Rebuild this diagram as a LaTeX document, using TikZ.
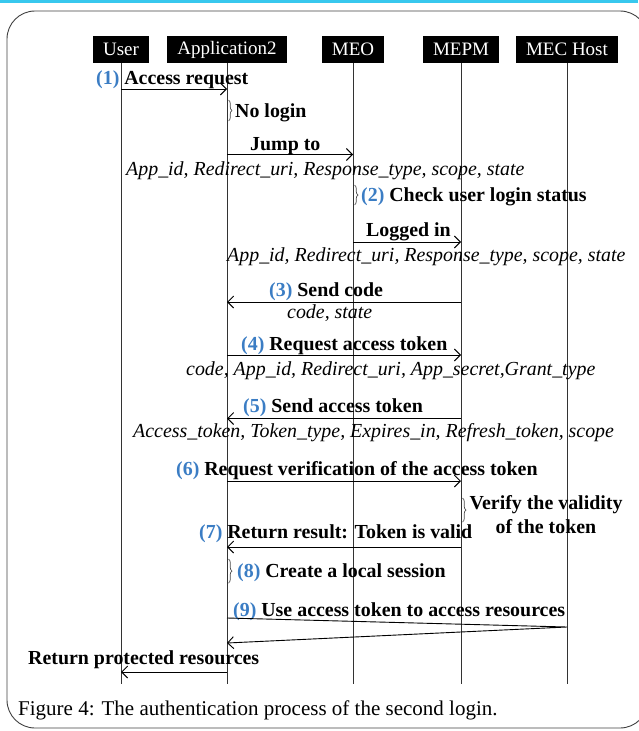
\documentclass[tikz,border=0pt]{standalone}
\usepackage{fontspec}
\setmainfont{Liberation Serif}
\usepackage{xcolor}
\usetikzlibrary{arrows.meta,decorations.pathreplacing}
\definecolor{numblue}{HTML}{3B7DC4}
\definecolor{topline}{HTML}{38C8EE}
\newcommand{\stepno}[1]{\textcolor{numblue}{(#1)}}

\begin{document}
\begin{tikzpicture}[
  x=1pt, y=-1pt,
  actor/.style={fill=black, text=white, font=\fontsize{19}{22}\selectfont, minimum height=27pt, inner xsep=10pt, inner ysep=0pt},
  life/.style={draw=black!80, line width=0.9pt},
  msg/.style={-{Straight Barb[length=6pt,width=12pt]}, line width=0.9pt},
  lbl/.style={font=\fontsize{19.9}{24}\bfseries\selectfont, inner sep=0pt, anchor=base west},
  prm/.style={font=\fontsize{19.9}{24}\itshape\selectfont, inner sep=0pt, anchor=base west},
  brc/.style={decorate, decoration={brace, amplitude=3.5pt}, draw=black!70, line width=0.7pt}
]
\useasboundingbox (0,0) rectangle (638,731);
\fill[topline] (0,0) rectangle (638,2.5);
\draw[black!75, line width=0.9pt, rounded corners=28pt] (7,11) rectangle (648,728);

\node[actor] (u) at (121,49.5) {User};
\node[actor] (a) at (227,49.5) {Application2};
\node[actor] (o) at (353,49.5) {MEO};
\node[actor] (p) at (461,49.5) {MEPM};
\node[actor] (h) at (567,49.5) {MEC Host};
\foreach \n in {u,a,o,p,h}
  \draw[life] (\n.south) -- (\n |- 0,684);

\node[lbl] (l1) at (96,84.5) {\stepno{1} Access request};
\draw[msg] (u |- 0,89) -- (a |- 0,89);
\draw[brc] ([xshift=1.5pt]a |- 0,100) -- ([xshift=1.5pt]a |- 0,121);
\node[lbl] (nl) at (235,117) {No login};

\node[lbl] (l2) at (250,150) {Jump to};
\draw[msg] (a |- 0,154.5) -- (o |- 0,154.5);
\node[prm] (q1) at (126,175) {App\_id, Redirect\_uri, Response\_type, scope, state};
\draw[brc] ([xshift=1.5pt]o |- 0,185) -- ([xshift=1.5pt]o |- 0,205);
\node[lbl] (l3) at (361,201.5) {\stepno{2} Check user login status};

\node[lbl] (l4) at (366,236.5) {Logged in};
\draw[msg] (o |- 0,242) -- (p |- 0,242);
\node[prm] (q2) at (227,261.5) {App\_id, Redirect\_uri, Response\_type, scope, state};

\node[lbl] (l5) at (269,296.5) {\stepno{3} Send code};
\draw[msg] (p |- 0,302) -- (a |- 0,302);
\node[prm] (q3) at (287,318) {code, state};

\node[lbl] (l6) at (241,350) {\stepno{4} Request access token};
\draw[msg] (a |- 0,355) -- (p |- 0,355);
\node[prm] (q4) at (186,375) {code, App\_id, Redirect\_uri, App\_secret,Grant\_type};

\node[lbl] (l7) at (243,412.5) {\stepno{5} Send access token};
\draw[msg] (p |- 0,418.5) -- (a |- 0,418.5);
\node[prm] (q5) at (133,437) {Access\_token, Token\_type, Expires\_in, Refresh\_token, scope};

\node[lbl] (l8) at (176,475.5) {\stepno{6} Request verification of the access token};
\draw[msg] (a |- 0,481) -- (p |- 0,481);
\draw[brc] ([xshift=1.5pt]p |- 0,498) -- ([xshift=1.5pt]p |- 0,522);
\node[lbl, anchor=center, align=center] (vf) at (546,515) {Verify the validity\\of the token};

\node[lbl] (l9) at (199,538.5) {\stepno{7} Return result: Token is valid};
\draw[msg] (p |- 0,547) -- (a |- 0,547);
\draw[brc] ([xshift=1.5pt]a |- 0,559) -- ([xshift=1.5pt]a |- 0,583);
\node[lbl] (l10) at (237,577.5) {\stepno{8} Create a local session};

\node[lbl] (l11) at (233,616.5) {\stepno{9} Use access token to access resources};
\draw[msg] (a |- 0,618) -- (h |- 0,627) -- (a |- 0,643);
\node[lbl] (l12) at (28,664.5) {Return protected resources};
\draw[msg] (a |- 0,672) -- (u |- 0,672);

\node[font=\fontsize{21}{24}\selectfont, anchor=base west, inner sep=0pt] (cap) at (18,715) {Figure 4: The authentication process of the second login.};
\end{tikzpicture}
\end{document}
